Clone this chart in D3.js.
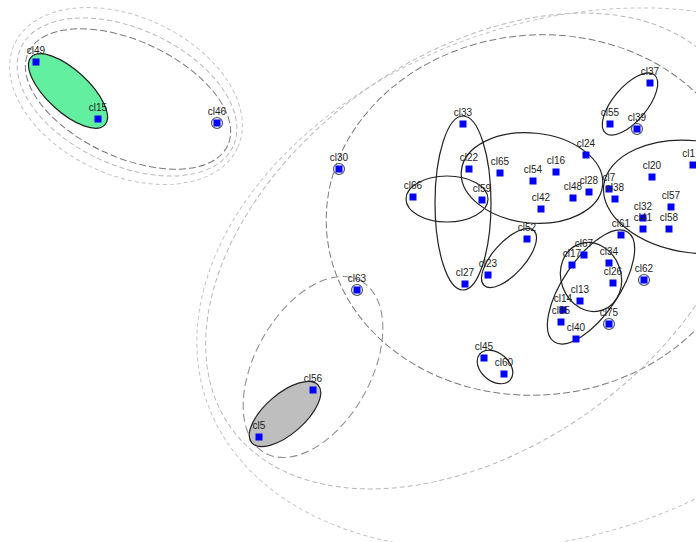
<!DOCTYPE html>
<html><head><meta charset="utf-8">
<script src="https://cdn.jsdelivr.net/npm/d3@7"></script>
<style>body{margin:0;background:#fff}svg{display:block}</style></head>
<body><svg id="c" width="696" height="542"></svg>
<script>
// ---- data (plot coordinates) ----
const pointNames = ["cl49","cl15","cl46","cl30","cl33","cl22","cl65","cl66","cl59","cl37","cl55","cl39","cl24","cl16","cl54","cl42","cl48","cl28","cl7","cl38","cl20","cl1","cl57","cl32","cl41","cl58","cl61","cl52","cl23","cl27","cl67","cl17","cl34","cl26","cl62","cl13","cl14","cl85","cl40","cl75","cl45","cl60","cl63","cl56","cl5"];
const pointX = [36,98,217,339,463,469,500,413,482,650,610,637,586,556,533,541,573,589,609,615,652,693,671,643,643,669,621,527,488,465,584,572,609,613,644,580,563,561,576,609,484,504,357,313,259];
const pointY = [62,119,123,169,124,169,173,197,200,83,124,129,155,172,181,209,198,192,189,199,177,165,207,218,229,229,235,239,275,284,255,265,263,283,280,301,310,322,339,324,358,374,290,390,437];
const singletons = ["cl46","cl30","cl39","cl62","cl75","cl63"];

// cluster ellipses: centre x, centre y, semi-axis 1, semi-axis 2, angle (deg)
const clusterCX  = [68, 285, 630, 463, 447, 532, 695, 509, 591, 591, 495];
const clusterCY  = [91, 414, 104, 203, 199, 178, 197, 258, 287, 277, 367];
const clusterA   = [50, 44, 38, 28, 41, 71, 92, 37, 66, 35, 20];
const clusterB   = [21, 20, 17, 87, 23, 45, 56, 16, 28, 30, 14];
const clusterAng = [42.6, -41, -50, 0, 0, 6, 7.5, -48, 124, 70, 40];
const clusterFill = ["green","gray","none","none","none","none","none","none","none","none","none"];

// enclosing (higher-level) dashed ellipses
const groupCX  = [128, 127, 126, 537, 477, 558, 313];
const groupCY  = [99, 97, 96, 215, 251, 279, 367];
const groupA   = [110, 117, 123, 211, 303, 372, 98.5];
const groupB   = [58, 68, 79, 180, 196, 256, 58];
const groupAng = [25, 25, 25, -5, -35.7, -19.3, -60.8];
const groupLevel = ["inner","middle","outer","inner","middle","outer","inner2"];

// ---- drawing ----
const W = 696, H = 542;
const x = d3.scaleLinear().domain([0, 696]).range([0, W]);
const y = d3.scaleLinear().domain([0, 542]).range([0, H]);
const k = x(1) - x(0);
const svg = d3.select("#c");

const fillColor = {green: "#62ef9f", gray: "#bebebe", none: "none"};
const dashStyle = {
  inner:  {stroke: "#7a7a7a", dash: "7,3", w: 1},
  inner2: {stroke: "#909090", dash: "8,4", w: 1.1},
  middle: {stroke: "#b8b8b8", dash: "5,3", w: 1},
  outer:  {stroke: "#c4c4c4", dash: "4,3", w: 1}
};

const groups = groupCX.map((d, i) => ({cx: d, cy: groupCY[i], a: groupA[i], b: groupB[i], ang: groupAng[i], lvl: groupLevel[i]}));
svg.append("g").selectAll("ellipse").data(groups).join("ellipse")
  .attr("rx", d => d.a * k).attr("ry", d => d.b * k)
  .attr("transform", d => `translate(${x(d.cx)},${y(d.cy)}) rotate(${d.ang})`)
  .attr("fill", "none")
  .attr("stroke", d => dashStyle[d.lvl].stroke)
  .attr("stroke-width", d => dashStyle[d.lvl].w)
  .attr("stroke-dasharray", d => dashStyle[d.lvl].dash);

const clusters = clusterCX.map((d, i) => ({cx: d, cy: clusterCY[i], a: clusterA[i], b: clusterB[i], ang: clusterAng[i], fill: clusterFill[i]}));
svg.append("g").selectAll("ellipse").data(clusters).join("ellipse")
  .attr("rx", d => d.a * k).attr("ry", d => d.b * k)
  .attr("transform", d => `translate(${x(d.cx)},${y(d.cy)}) rotate(${d.ang})`)
  .attr("fill", d => fillColor[d.fill])
  .attr("stroke", "#222").attr("stroke-width", 1.2);

const pts = pointNames.map((n, i) => ({name: n, x: pointX[i], y: pointY[i]}));

svg.append("g").selectAll("circle").data(pts.filter(p => singletons.includes(p.name))).join("circle")
  .attr("cx", d => x(d.x)).attr("cy", d => y(d.y)).attr("r", 5.5)
  .attr("fill", "#eef0f6").attr("stroke", "#4a4f66").attr("stroke-width", 1.1);

svg.append("g").selectAll("rect").data(pts).join("rect")
  .attr("x", d => x(d.x) - 3.5).attr("y", d => y(d.y) - 3.5)
  .attr("width", 7).attr("height", 7).attr("fill", "#0000ff");

// labels centred above each point; kept inside the frame at the right edge
svg.append("g").selectAll("text").data(pts).join("text")
  .attr("font-family", "Liberation Sans, Arial, sans-serif")
  .attr("font-size", 10).attr("fill", "#222")
  .text(d => d.name)
  .each(function(d) {
    const t = d3.select(this);
    const w = this.getComputedTextLength();
    let cx = x(d.x);
    if (cx + w / 2 > W - 1) cx = W - 1 - w / 2;
    t.attr("x", cx).attr("y", y(d.y) - 8).attr("text-anchor", "middle");
  });
</script></body></html>
